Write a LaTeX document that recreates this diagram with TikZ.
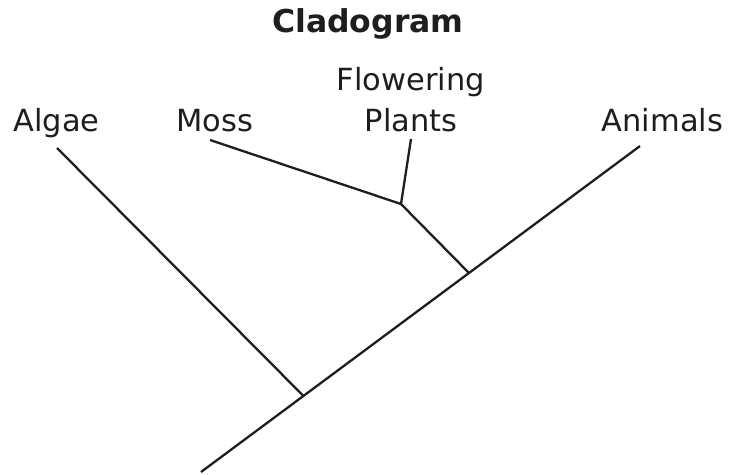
\documentclass[tikz,border=0pt]{standalone}
\usepackage{fontspec}
\setmainfont{DejaVu Sans}
\definecolor{ink}{HTML}{1E1E1E}
\begin{document}
\begin{tikzpicture}[x=1pt,y=-1pt,
  lbl/.style={anchor=base,inner sep=0pt,text=ink,font=\fontsize{30.5}{41}\selectfont,align=center},
  ttl/.style={anchor=base,inner sep=0pt,text=ink,font=\bfseries\fontsize{31.5}{36}\selectfont},
  branch/.style={draw=ink,line width=2.3pt}]
\useasboundingbox (0,0) rectangle (730,474);
\node[ttl] (title) at (368,32) {Cladogram};
\node[lbl] (algae) at (56.5,131) {Algae};
\node[lbl] (moss) at (215,131) {Moss};
\node[lbl,anchor=base] (fp) at (411,131) {Plants};
\node[lbl] (fp1) at (411,90) {Flowering};
\node[lbl] (animals) at (662.5,131) {Animals};
\coordinate (root) at (201,472);
\coordinate (j1) at (303,395.5);
\coordinate (j2) at (468.5,272.5);
\coordinate (j3) at (401,204);
\coordinate (tA) at (57,148);
\coordinate (tM) at (210,140);
\coordinate (tF) at (411,139);
\coordinate (tN) at (640,146);
\draw[branch] (root) -- (tN);
\draw[branch] (tA) -- (j1);
\draw[branch] (j2) -- (j3);
\draw[branch] (tM) -- (j3) -- (tF);
\end{tikzpicture}
\end{document}
